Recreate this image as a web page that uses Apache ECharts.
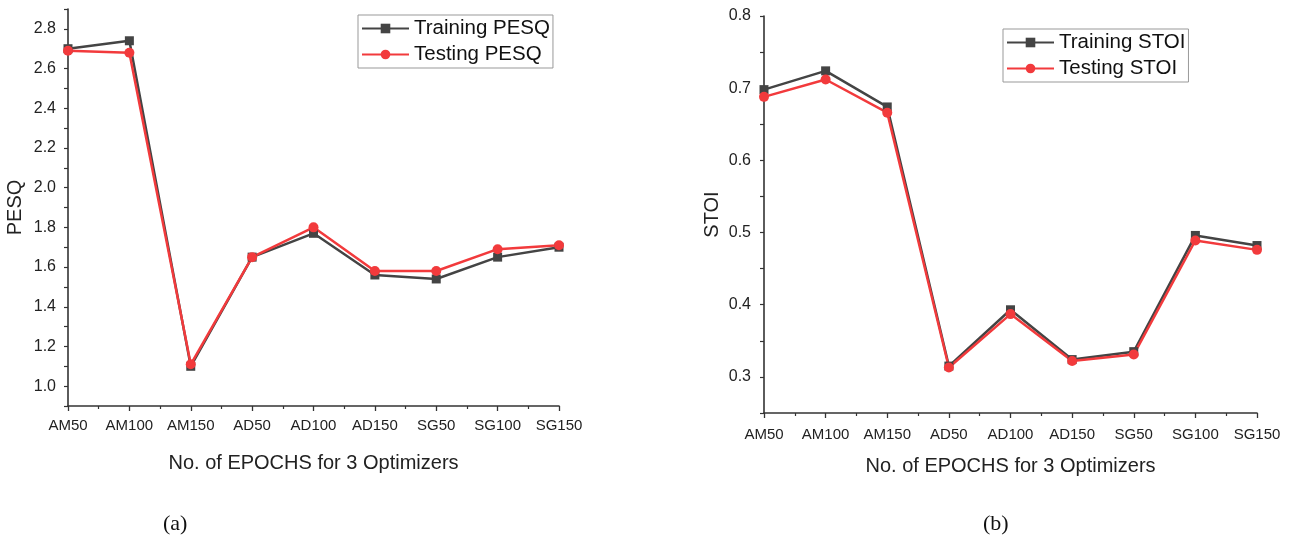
<!DOCTYPE html>
<html>
<head>
<meta charset="utf-8">
<script src="https://cdn.jsdelivr.net/npm/echarts@6/dist/echarts.min.js"></script>
<style>
  html, body { margin: 0; padding: 0; background: #fff; }
  #chart { width: 1291px; height: 539px; }
</style>
</head>
<body>
<div id="chart"></div>
<script>
// epochs per optimizer
const epochs = ['AM50', 'AM100', 'AM150', 'AD50', 'AD100', 'AD150', 'SG50', 'SG100', 'SG150'];

// (a) PESQ
const trainPesq = [2.70, 2.74, 1.10, 1.65, 1.77, 1.56, 1.54, 1.65, 1.70];
const testPesq = [2.69, 2.68, 1.11, 1.65, 1.80, 1.58, 1.58, 1.69, 1.71];

// (b) STOI
const trainStoi = [0.698, 0.724, 0.674, 0.315, 0.393, 0.324, 0.335, 0.496, 0.482];
const testStoi = [0.688, 0.712, 0.666, 0.313, 0.387, 0.322, 0.331, 0.489, 0.476];

const FONT = "'Liberation Sans', Arial, sans-serif";
const DARK = '#444444';
const RED = '#f23a3c';

const toPoints = (vals) => vals.map((v, i) => [i, v]);

function xAxisCfg(gridIndex, labelMargin, nameGap) {
  return {
    type: 'value',
    gridIndex: gridIndex,
    min: 0,
    max: epochs.length - 1,
    interval: 1,
    name: 'No. of EPOCHS for 3 Optimizers',
    nameLocation: 'middle',
    nameGap: nameGap,
    nameTextStyle: { fontFamily: FONT, fontSize: 20, color: '#222' },
    axisLine: { lineStyle: { color: '#333', width: 1.6 } },
    axisTick: { length: 5, lineStyle: { color: '#333', width: 1.3 } },
    minorTick: { show: true, splitNumber: 2, length: 3, lineStyle: { color: '#333', width: 1.2 } },
    axisLabel: {
      margin: labelMargin,
      fontFamily: FONT,
      fontSize: 15,
      color: '#222',
      formatter: (v) => (Number.isInteger(v) ? epochs[v] : '')
    },
    splitLine: { show: false }
  };
}

function legendCfg(names, left, top) {
  return {
    data: names,
    orient: 'vertical',
    left: left,
    top: top,
    borderColor: '#999',
    borderWidth: 1,
    padding: [3, 3, 3, 3],
    itemGap: 5,
    itemWidth: 47,
    itemHeight: 12,
    textStyle: { fontFamily: FONT, fontSize: 20.5, color: '#111' }
  };
}

const chart = echarts.init(document.getElementById('chart'));

const option = {
  backgroundColor: '#ffffff',
  animation: false,
  grid: [
    { left: 68, right: 732, top: 9, bottom: 133 },
    { left: 764, right: 34, top: 16, bottom: 126 }
  ],
  legend: [
    legendCfg(['Training PESQ', 'Testing PESQ'], 358, 15),
    legendCfg(['Training STOI', 'Testing STOI'], 1003, 29)
  ],
  xAxis: [xAxisCfg(0, 12, 47), xAxisCfg(1, 14, 43)],
  yAxis: [
    {
      type: 'value',
      gridIndex: 0,
      min: 0.9,
      max: 2.9,
      interval: 0.1,
      name: 'PESQ',
      nameLocation: 'middle',
      nameGap: 43,
      nameTextStyle: { fontFamily: FONT, fontSize: 20, color: '#222' },
      axisLine: { show: true, lineStyle: { color: '#333', width: 1.6 } },
      axisTick: { show: true, length: 4, lineStyle: { color: '#333', width: 1.2 } },
      axisLabel: {
        margin: 12,
        fontFamily: FONT,
        fontSize: 16,
        color: '#222',
        formatter: (v) => (Math.round(v * 10) % 2 === 0 ? v.toFixed(1) : '')
      },
      splitLine: { show: false }
    },
    {
      type: 'value',
      gridIndex: 1,
      min: 0.25,
      max: 0.8,
      interval: 0.05,
      name: 'STOI',
      nameLocation: 'middle',
      nameGap: 42,
      nameTextStyle: { fontFamily: FONT, fontSize: 20, color: '#222' },
      axisLine: { show: true, lineStyle: { color: '#333', width: 1.6 } },
      axisTick: { show: true, length: 4, lineStyle: { color: '#333', width: 1.2 } },
      axisLabel: {
        margin: 13,
        fontFamily: FONT,
        fontSize: 16,
        color: '#222',
        formatter: (v) => (Math.round(v * 100) % 10 === 0 ? v.toFixed(1) : '')
      },
      splitLine: { show: false }
    }
  ],
  series: [
    {
      name: 'Training PESQ', type: 'line', xAxisIndex: 0, yAxisIndex: 0,
      data: toPoints(trainPesq), symbol: 'rect', symbolSize: 9,
      lineStyle: { color: DARK, width: 2.5 }, itemStyle: { color: DARK }
    },
    {
      name: 'Testing PESQ', type: 'line', xAxisIndex: 0, yAxisIndex: 0,
      data: toPoints(testPesq), symbol: 'circle', symbolSize: 10,
      lineStyle: { color: RED, width: 2.5 }, itemStyle: { color: RED }
    },
    {
      name: 'Training STOI', type: 'line', xAxisIndex: 1, yAxisIndex: 1,
      data: toPoints(trainStoi), symbol: 'rect', symbolSize: 9,
      lineStyle: { color: DARK, width: 2.5 }, itemStyle: { color: DARK }
    },
    {
      name: 'Testing STOI', type: 'line', xAxisIndex: 1, yAxisIndex: 1,
      data: toPoints(testStoi), symbol: 'circle', symbolSize: 10,
      lineStyle: { color: RED, width: 2.5 }, itemStyle: { color: RED }
    }
  ],
  graphic: [
    {
      type: 'text', left: 163, top: 513,
      style: { text: '(a)', font: "22px 'Liberation Serif', 'Times New Roman', serif", fill: '#111' }
    },
    {
      type: 'text', left: 983, top: 513,
      style: { text: '(b)', font: "22px 'Liberation Serif', 'Times New Roman', serif", fill: '#111' }
    }
  ]
};

chart.setOption(option);
</script>
</body>
</html>
